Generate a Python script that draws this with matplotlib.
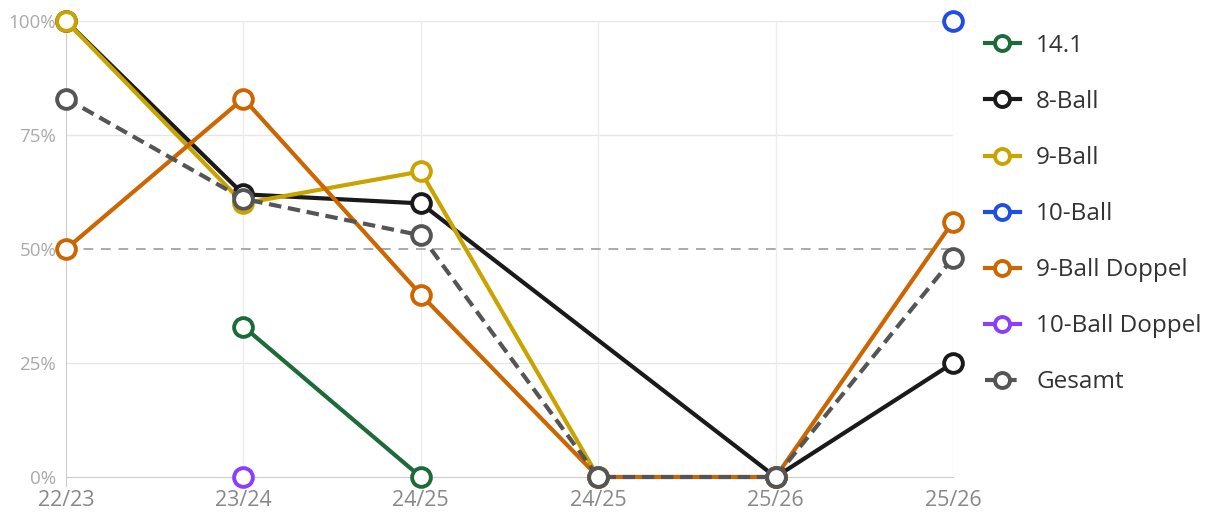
import numpy as np
import matplotlib.pyplot as plt

nan = np.nan

# Saisons (x-Achse)
saisons = ['22/23', '23/24', '24/25', '24/25', '25/26', '25/26']

# Quoten in %
s_141 = [nan, 33, 0, nan, nan, nan]
s_8ball = [100, 62, 60, nan, 0, 25]
s_9ball = [100, 60, 67, 0, nan, nan]
s_10ball = [nan, nan, nan, nan, nan, 100]
s_9doppel = [50, 83, 40, 0, 0, 56]
s_10doppel = [nan, 0, nan, nan, nan, nan]
s_gesamt = [83, 61, 53, 0, 0, 48]

namen = ['14.1', '8-Ball', '9-Ball', '10-Ball', '9-Ball Doppel', '10-Ball Doppel', 'Gesamt']
farben = ['#1e6b3a', '#1a1a1a', '#c9a400', '#1f4fe0', '#cc6600', '#8a3ffc', '#555555']
reihen = [s_141, s_8ball, s_9ball, s_10ball, s_9doppel, s_10doppel, s_gesamt]

plt.rcParams['font.family'] = ['Open Sans', 'DejaVu Sans']

fig = plt.figure(figsize=(12.31, 5.21), dpi=100)
ax = fig.add_axes([66/1231, 1-477/521, (953-66)/1231, (477-21)/521])

x = np.arange(len(saisons))

for name, farbe, werte in zip(namen, farben, reihen):
    werte = np.array(werte, dtype=float)
    ok = ~np.isnan(werte)
    ls = '--' if name == 'Gesamt' else '-'
    ax.plot(x[ok], werte[ok], ls, color=farbe, lw=3, marker='o', ms=13.5,
            mfc='white', mec=farbe, mew=2.8, label=name, clip_on=False, zorder=3,
            dashes=(3, 1.6) if name == 'Gesamt' else (None, None))

# Gitter
for v in [25, 75, 100]:
    ax.axhline(v, color='#e6e6e6', lw=1, zorder=0)
ax.axhline(50, color='#aaaaaa', lw=1.4, ls=(0, (5, 4)), zorder=1)
for xi in x[1:]:
    ax.axvline(xi, color='#ececec', lw=1, zorder=0)

ax.set_xlim(0, 5)
ax.set_ylim(0, 100)
ax.set_yticks([0, 25, 50, 75, 100])
ax.set_yticklabels(['0%', '25%', '50%', '75%', '100%'])
ax.set_xticks(x)
ax.set_xticklabels(saisons)
ax.tick_params(axis='y', colors='#aaaaaa', labelsize=13.5, length=0, pad=7)
ax.tick_params(axis='x', colors='#cccccc', labelcolor='#888888', labelsize=15.5, length=0, pad=9)

for s in ['top', 'right']:
    ax.spines[s].set_visible(False)
ax.spines['left'].set_color('#cccccc')
ax.spines['bottom'].set_color('#cccccc')
ax.spines['left'].set_bounds(-2, 100)

leg = fig.legend(loc='upper left', bbox_to_anchor=(963/1231, 1-12/521), frameon=False,
                 fontsize=17.5, labelspacing=1.32, handlelength=1.45, handletextpad=0.66,
                 markerscale=0.8)
for t in leg.get_texts():
    t.set_color('#333333')

fig.savefig('out.png', dpi=100)
